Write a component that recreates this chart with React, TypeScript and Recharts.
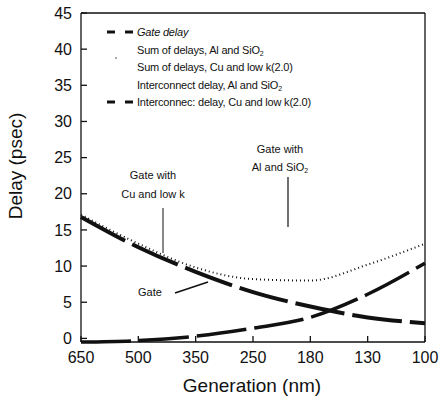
import React from 'react';
import { LineChart, Line, XAxis, YAxis } from 'recharts';

// technology generation (nm), read left to right
const generations = ['650', '500', '350', '250', '180', '130', '100'];
// delays in psec
const gateDelay = [16.8, 12.6, 9.2, 6.4, 4.4, 2.9, 2.1];
const sumCuLowK = [17.1, 13.1, 9.8, 8.2, 8.0, 10.2, 13.1];
const interconnectCuLowK = [-0.5, -0.3, 0.3, 1.4, 2.9, 6.1, 10.4];
const yTicks = [0, 5, 10, 15, 20, 25, 30, 35, 40, 45];

const legendItems = [
  { label: 'Gate delay', symbol: 'dash', italic: true },
  { label: 'Sum of delays, Al and SiO', sub: '2', symbol: 'none' },
  { label: 'Sum of delays, Cu and low k(2.0)', symbol: 'dot' },
  { label: 'Interconnect delay, Al and SiO', sub: '2', symbol: 'none' },
  { label: 'Interconnec: delay, Cu and low k(2.0)', symbol: 'dash' },
];

const data = generations.map((gen, i) => ({
  gen,
  gate: gateDelay[i],
  sumCu: sumCuLowK[i],
  interCu: interconnectCuLowK[i],
}));

const font = '"Liberation Sans", Arial, Helvetica, sans-serif';
const ink = '#111';

// legend drawn inside the svg so it takes no room from the plot
const ChartLegend = () => (
  <g fontFamily={font} fontSize={11} fill={ink}>
    {legendItems.map((item, i) => {
      const y = 32 + i * 17.5;
      return (
        <g key={item.label}>
          {item.symbol === 'dash' && (
            <>
              <line x1={107} y1={y} x2={115} y2={y} stroke={ink} strokeWidth={3} />
              <line x1={125} y1={y} x2={133} y2={y} stroke={ink} strokeWidth={3} />
            </>
          )}
          {item.symbol === 'dot' && <circle cx={116} cy={y - 9} r={0.7} fill={ink} />}
          <text x={137} y={y + 4} fontStyle={item.italic ? 'italic' : 'normal'} letterSpacing={-0.2}>
            {item.label}
            {item.sub && (
              <tspan fontSize={7} dy={2}>
                {item.sub}
              </tspan>
            )}
          </text>
        </g>
      );
    })}
  </g>
);

export default function App() {
  return (
    <div style={{ position: 'absolute', left: 0, top: 0, background: '#fff' }}>
      <LineChart width={439} height={401} data={data} margin={{ top: 12, right: 13, left: 0, bottom: 0 }}>
        <XAxis
          dataKey="gen"
          height={59}
          padding={{ left: 0, right: 0 }}
          tickSize={-6}
          tickMargin={16}
          tick={{ fill: ink, fontSize: 16, fontFamily: font }}
          axisLine={{ stroke: ink, strokeWidth: 1.3 }}
          tickLine={{ stroke: ink, strokeWidth: 1.3 }}
        />
        <XAxis xAxisId="top" dataKey="gen" orientation="top" height={1} tick={false} tickLine={false} axisLine={{ stroke: ink, strokeWidth: 1.3 }} />
        <YAxis
          width={81}
          domain={[-0.5, 45]}
          ticks={yTicks}
          tickSize={-6}
          tickMargin={15}
          tick={{ fill: ink, fontSize: 16, fontFamily: font }}
          axisLine={{ stroke: ink, strokeWidth: 1.3 }}
          tickLine={{ stroke: ink, strokeWidth: 1.3 }}
        />
        <YAxis yAxisId="right" orientation="right" width={1} tick={false} tickLine={false} axisLine={{ stroke: ink, strokeWidth: 1.3 }} />
        <Line
          type="monotone"
          dataKey="sumCu"
          stroke={ink}
          strokeWidth={2}
          strokeDasharray="1 3"
          dot={false}
          isAnimationActive={false}
        />
        <Line
          type="monotone"
          dataKey="gate"
          stroke={ink}
          strokeWidth={4}
          strokeDasharray="50 8"
          dot={false}
          isAnimationActive={false}
        />
        <Line
          type="monotone"
          dataKey="interCu"
          stroke={ink}
          strokeWidth={3.5}
          strokeDasharray="50 8"
          dot={false}
          isAnimationActive={false}
        />
        <ChartLegend />
        <text x={252} y={392} textAnchor="middle" fontSize={19} fontFamily={font} fill={ink}>
          Generation (nm)
        </text>
        <text
          x={15}
          y={166}
          textAnchor="middle"
          dominantBaseline="central"
          fontSize={19}
          fontFamily={font}
          fill={ink}
          transform="rotate(-90, 15, 166)"
        >
          Delay (psec)
        </text>
        <g fontFamily={font} fontSize={11} fill={ink} textAnchor="middle">
          <text x={153} y={179}>Gate with</text>
          <text x={153} y={198}>Cu and low k</text>
          <text x={280} y={153}>Gate with</text>
          <text x={280} y={171}>
            Al and SiO<tspan fontSize={7} dy={2}>2</tspan>
          </text>
          <text x={150} y={296}>Gate</text>
        </g>
        <line x1={163} y1={208} x2={163} y2={253} stroke={ink} strokeWidth={1} />
        <line x1={288} y1={177} x2={288} y2={227} stroke={ink} strokeWidth={1.2} />
        <line x1={175} y1={293} x2={208} y2={282} stroke={ink} strokeWidth={1.5} />
      </LineChart>
    </div>
  );
}
